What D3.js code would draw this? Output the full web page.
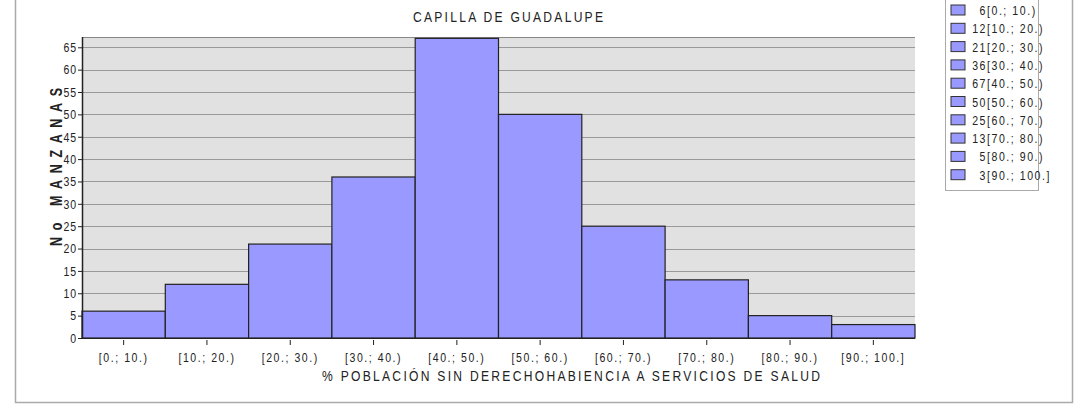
<!DOCTYPE html>
<html>
<head>
<meta charset="utf-8">
<script src="https://cdn.jsdelivr.net/npm/d3@7"></script>
<style>
body { margin: 0; background: #fff; }
svg text { font-family: "Liberation Sans", Arial, sans-serif; fill: #222; }
</style>
</head>
<body>
<svg width="1089" height="409"></svg>
<script>
// histogram data
var bins = ["[0.; 10.)", "[10.; 20.)", "[20.; 30.)", "[30.; 40.)", "[40.; 50.)",
            "[50.; 60.)", "[60.; 70.)", "[70.; 80.)", "[80.; 90.)", "[90.; 100.]"];
var counts = [6, 12, 21, 36, 67, 50, 25, 13, 5, 3];
var yTicks = [0, 5, 10, 15, 20, 25, 30, 35, 40, 45, 50, 55, 60, 65];

var titleText = "CAPILLA DE GUADALUPE";
var xTitle = "% POBLACIÓN SIN DERECHOHABIENCIA A SERVICIOS DE SALUD";
var yTitle = "No MANZANAS";

// the original font is a condensed arial, fake it with a horizontal squeeze
var K = 0.78;

function squeeze(sel){
	sel.each(function(){
		var t = d3.select(this);
		var x0 = +t.attr('x') || 0;
		t.attr('x', x0 / K).attr('transform', 'scale(' + K + ',1)');
	});
}

window.onload = function(){
	var svg = d3.select('svg');

	var left = 82, right = 915, top = 37, bottom = 338;

	var x = d3.scaleBand().domain(bins).range([left, right]).padding(0);
	var y = d3.scaleLinear().domain([0, 67.3]).range([bottom, top]);

	// outer frame
	svg.append('rect')
		.attr('x', 15.5).attr('y', -5)
		.attr('width', 1057).attr('height', 407.5)
		.style('fill', 'none').style('stroke', '#aaa').style('stroke-width', 1.5);

	// plot background
	svg.append('rect')
		.attr('x', left).attr('y', top)
		.attr('width', right - left).attr('height', bottom - top)
		.style('fill', '#e1e1e1');

	// grid
	svg.selectAll('line.grid')
		.data(yTicks.filter(function(d){ return d > 0; }))
		.enter()
		.append('line')
		.attr('class', 'grid')
		.attr('x1', left).attr('x2', right)
		.attr('y1', function(d){ return Math.round(y(d)) + 0.5; })
		.attr('y2', function(d){ return Math.round(y(d)) + 0.5; })
		.style('stroke', '#999').style('stroke-width', 1);

	svg.append('line')
		.attr('x1', left).attr('x2', right).attr('y1', top + 0.5).attr('y2', top + 0.5)
		.style('stroke', '#888');

	// bars
	svg.selectAll('rect.bar')
		.data(counts)
		.enter()
		.append('rect')
		.attr('class', 'bar')
		.attr('x', function(d, i){ return x(bins[i]); })
		.attr('y', function(d){ return y(d); })
		.attr('width', x.bandwidth())
		.attr('height', function(d){ return bottom - y(d); })
		.style('fill', '#9999ff')
		.style('stroke', '#222')
		.style('stroke-width', 1.2);

	// y axis
	var yAxis = svg.append('g')
		.attr('transform', 'translate(' + left + ',0)')
		.call(d3.axisLeft(y).tickValues(yTicks).tickSize(4).tickPadding(1));
	yAxis.select('.domain').attr('d', 'M0.5,' + top + 'V' + bottom).style('stroke', '#222').style('stroke-width', 1.5);
	yAxis.selectAll('.tick line').style('stroke', '#222');
	yAxis.selectAll('text')
		.style('font-size', '13.5px').style('letter-spacing', '1.1px')
		.style('font-family', '"Liberation Sans", Arial, sans-serif')
		.attr('fill', '#222')
		.call(squeeze);

	// x axis
	var xAxis = svg.append('g')
		.attr('transform', 'translate(0,' + bottom + ')')
		.call(d3.axisBottom(x).tickSize(7).tickPadding(7));
	xAxis.select('.domain').attr('d', 'M' + left + ',0.5H' + right).style('stroke', '#222').style('stroke-width', 1.2);
	xAxis.selectAll('.tick line').attr('y1', 2).style('stroke', '#222');
	xAxis.selectAll('text')
		.style('font-size', '13.5px').style('letter-spacing', '2px')
		.style('font-family', '"Liberation Sans", Arial, sans-serif')
		.attr('fill', '#222')
		.call(squeeze);

	// titles
	svg.append('text')
		.attr('transform', 'translate(413,22) scale(' + K + ',1)')
		.attr('textLength', 190 / K).attr('lengthAdjust', 'spacing')
		.style('font-size', '15.5px')
		.text(titleText);

	svg.append('text')
		.attr('transform', 'translate(322,381) scale(' + K + ',1)')
		.attr('textLength', 498 / K).attr('lengthAdjust', 'spacing')
		.style('font-size', '15.5px')
		.text(xTitle);

	svg.append('text')
		.attr('transform', 'translate(62,246) rotate(-90) scale(' + K + ',1)')
		.attr('textLength', 158 / K).attr('lengthAdjust', 'spacing')
		.style('font-size', '16px').style('font-weight', 'bold')
		.text(yTitle);

	// legend
	var lg = svg.append('g');
	lg.append('rect')
		.attr('x', 945.5).attr('y', -3)
		.attr('width', 93).attr('height', 193.5)
		.style('fill', '#fff').style('stroke', '#aaa');

	var items = lg.selectAll('g.item')
		.data(counts)
		.enter()
		.append('g')
		.attr('class', 'item')
		.attr('transform', function(d, i){ return 'translate(0,' + (10 + i * 18.3) + ')'; });

	items.append('rect')
		.attr('x', 951).attr('y', -5)
		.attr('width', 14).attr('height', 10)
		.style('fill', '#9999ff').style('stroke', '#333');

	items.append('text')
		.attr('x', 987).attr('y', 5)
		.attr('text-anchor', 'end')
		.style('font-size', '13.5px').style('letter-spacing', '2px')
		.text(function(d){ return d; })
		.call(squeeze);

	items.append('text')
		.attr('x', 987).attr('y', 5)
		.style('font-size', '13.5px').style('letter-spacing', '2px')
		.text(function(d, i){ return bins[i]; })
		.call(squeeze);
};
</script>
</body>
</html>
